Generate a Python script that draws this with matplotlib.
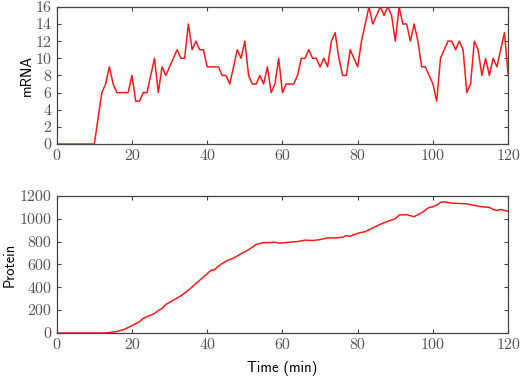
import numpy as np
import matplotlib
matplotlib.use('Agg')
import matplotlib.pyplot as plt

# =============================================================================
# DONNÉES
# =============================================================================
# ARNm : un échantillon par minute, de 0 à 120
t_mrna = np.arange(0, 121)
mrna = [0, 0, 0, 0, 0, 0, 0, 0, 0, 0,
        0, 3, 6, 7, 9, 7, 6, 6, 6, 6,
        8, 5, 5, 6, 6, 8, 10, 6, 9, 8,
        9, 10, 11, 10, 10, 14, 11, 12, 11, 11,
        9, 9, 9, 9, 8, 8, 7, 9, 11, 10,
        12, 8, 7, 7, 8, 7, 9, 6, 7, 10,
        6, 7, 7, 7, 8, 10, 10, 11, 10, 10,
        9, 10, 9, 12, 13, 10, 8, 8, 11, 10,
        9, 12, 14, 16, 14, 15, 16, 15, 16, 15,
        12, 16, 14, 14, 12, 14, 12, 9, 9, 8,
        7, 5, 10, 11, 12, 12, 11, 12, 11, 6,
        7, 12, 11, 8, 10, 8, 10, 9, 11, 13,
        8]

# Protéine : points
t_prot = [0, 13, 16, 18, 20, 22, 23, 24, 26, 27, 28, 29, 31, 33, 35, 37, 39,
          41, 42, 43, 45, 47, 49, 51, 53, 55, 57, 58, 59, 60, 62, 64, 66, 68,
          70, 72, 74, 76, 77, 78, 80, 82, 84, 86, 88, 90, 91, 93, 95, 97, 99,
          100, 101, 102, 103, 105, 107, 109, 111, 113, 115, 116, 117, 118, 120]
protein = [0, 0, 12, 32, 64, 99, 128, 142, 171, 197, 214, 249, 287, 325, 374,
           432, 490, 548, 554, 586, 629, 655, 693, 728, 774, 791, 791, 794,
           786, 788, 794, 800, 812, 809, 817, 832, 832, 838, 852, 846, 872,
           887, 919, 951, 977, 1000, 1032, 1035, 1017, 1052, 1099, 1104, 1119,
           1142, 1148, 1136, 1133, 1130, 1116, 1104, 1099, 1081, 1072, 1081,
           1064]

x_ticks = [0, 20, 40, 60, 80, 100, 120]
mrna_ticks = [0, 2, 4, 6, 8, 10, 12, 14, 16]
prot_ticks = [0, 200, 400, 600, 800, 1000, 1200]

# =============================================================================
# FIGURE
# =============================================================================
fig = plt.figure(figsize=(5.25, 3.81), dpi=100)
ax1 = fig.add_axes([0.108, 0.622, 0.860, 0.360])
ax2 = fig.add_axes([0.108, 0.126, 0.860, 0.360])

spine_col = '#444444'
for ax in (ax1, ax2):
    ax.tick_params(direction='in', top=True, right=True, length=3,
                   width=0.8, color=spine_col, labelsize=11.5, pad=4)
    for sp in ax.spines.values():
        sp.set_color(spine_col)
        sp.set_linewidth(0.9)
    ax.set_xlim(0, 120)
    ax.set_xticks(x_ticks)

ax1.plot(t_mrna, mrna, color='#ff1a1a', linewidth=1.1)
ax1.set_ylim(0, 16)
ax1.set_yticks(mrna_ticks)
ax1.set_ylabel('mRNA', fontfamily='cmss10', fontsize=10.5, labelpad=1)

ax2.plot(t_prot, protein, color='#ff1a1a', linewidth=1.1)
ax2.set_ylim(0, 1200)
ax2.set_yticks(prot_ticks)
ax2.set_ylabel('Protein', fontfamily='cmss10', fontsize=10.5, labelpad=2)
ax2.set_xlabel('Time (min)', fontfamily='cmss10', fontsize=10.5, labelpad=6)

for ax in (ax1, ax2):
    for lab in ax.get_xticklabels() + ax.get_yticklabels():
        lab.set_fontfamily('cmr10')
        lab.set_color('#555555')

fig.savefig('out.png', dpi=100)
